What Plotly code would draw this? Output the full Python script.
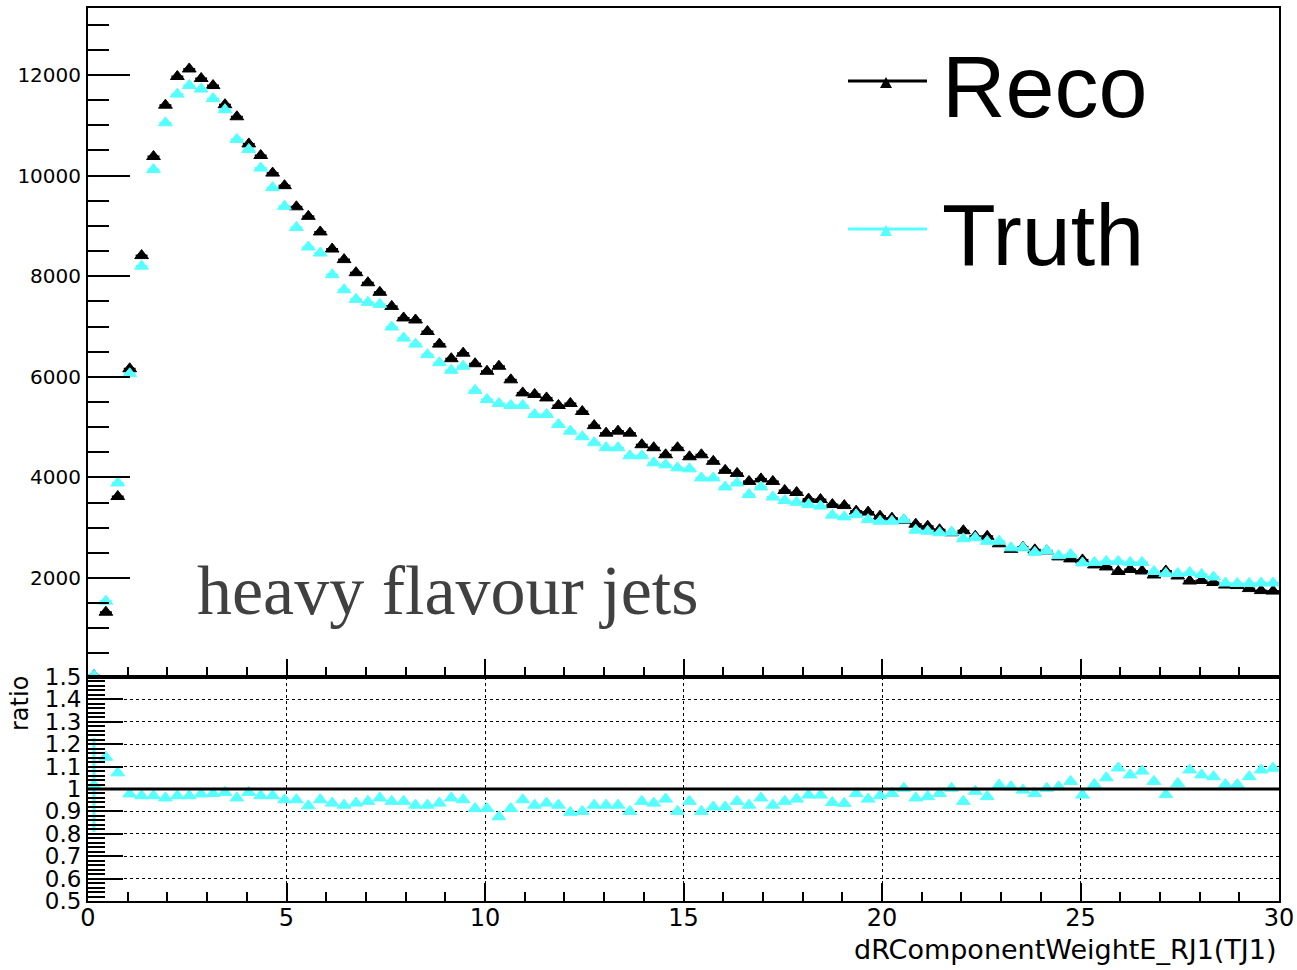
import plotly.graph_objects as go

W, H = 1297, 970

# ---------------- data ----------------
N_BINS = 100
X_MIN, X_MAX = 0.0, 30.0
BIN_WIDTH = (X_MAX - X_MIN) / N_BINS
BIN_CENTERS = [round(X_MIN + BIN_WIDTH * (i + 0.5), 3) for i in range(N_BINS)]

RECO = [
    62, 1320, 3620, 6160, 8410, 10380, 11400, 11970, 12120, 11930,
    11790, 11410, 11170, 10630, 10400, 10050, 9800, 9380, 9190, 8880,
    8540, 8330, 8070, 7870, 7680, 7400, 7170, 7130, 6900, 6650,
    6360, 6470, 6260, 6110, 6210, 5940, 5680, 5650, 5580, 5430,
    5470, 5310, 5030, 4880, 4920, 4880, 4650, 4590, 4450, 4590,
    4410, 4450, 4320, 4140, 4080, 3920, 3970, 3920, 3740, 3700,
    3570, 3560, 3460, 3440, 3330, 3310, 3230, 3190, 3150, 3070,
    3030, 2960, 2900, 2940, 2830, 2830, 2680, 2570, 2610, 2560,
    2540, 2420, 2380, 2360, 2260, 2220, 2130, 2170, 2140, 2060,
    2140, 2040, 1940, 1950, 1910, 1860, 1850, 1790, 1750, 1740,
]

TRUTH = [
    64, 1540, 3890, 6060, 8200, 10120, 11050, 11620, 11790, 11720,
    11530, 11310, 10720, 10520, 10150, 9760, 9390, 8970, 8580, 8460,
    8030, 7730, 7540, 7480, 7440, 6990, 6770, 6650, 6440, 6280,
    6130, 6210, 5730, 5550, 5470, 5430, 5430, 5250, 5250, 5050,
    4920, 4810, 4690, 4590, 4590, 4430, 4430, 4290, 4250, 4190,
    4170, 3990, 3990, 3810, 3890, 3660, 3810, 3610, 3540, 3505,
    3460, 3430, 3250, 3215, 3260, 3160, 3130, 3130, 3160, 2950,
    2930, 2900, 2910, 2780, 2800, 2730, 2730, 2600, 2600, 2510,
    2545, 2445, 2465, 2300, 2310, 2330, 2330, 2310, 2310, 2130,
    2090, 2090, 2110, 2070, 2020, 1900, 1890, 1890, 1900, 1900,
]

# Truth / Reco ratio as drawn in the lower pad
RATIO = [
    1.018, 1.142, 1.072, 0.978, 0.970, 0.970, 0.960, 0.970, 0.970, 0.978,
    0.980, 0.985, 0.960, 0.985, 0.970, 0.970, 0.952, 0.952, 0.925, 0.952,
    0.937, 0.928, 0.937, 0.945, 0.960, 0.945, 0.945, 0.928, 0.928, 0.937,
    0.960, 0.952, 0.913, 0.913, 0.876, 0.913, 0.952, 0.928, 0.937, 0.928,
    0.896, 0.900, 0.928, 0.928, 0.928, 0.900, 0.945, 0.937, 0.955, 0.900,
    0.945, 0.900, 0.920, 0.920, 0.945, 0.928, 0.960, 0.928, 0.945, 0.955,
    0.973, 0.973, 0.940, 0.936, 0.980, 0.955, 0.970, 0.980, 1.003, 0.960,
    0.966, 0.980, 1.003, 0.945, 0.990, 0.966, 1.018, 1.010, 0.995, 0.980,
    1.003, 1.010, 1.034, 0.973, 1.020, 1.050, 1.094, 1.063, 1.080, 1.034,
    0.975, 1.025, 1.085, 1.063, 1.055, 1.020, 1.020, 1.055, 1.085, 1.093,
]
RATIO_ERR = [0.21] + [0.0] * (N_BINS - 1)

X_TITLE = "dRComponentWeightE_RJ1(TJ1)"
Y2_TITLE = "ratio"
LABEL = "heavy flavour jets"
SERIES_NAMES = ["Reco", "Truth"]

BLACK = "#000000"
CYAN = "#55ffff"

# ---------------- layout geometry (pixels) ----------------
PX_L, PX_R = 88, 1279
PX_TOP, PX_MID, PX_BOT = 8, 677, 901


def fx(px):
    return px / W


def fy(py):
    return 1 - py / H


fig = go.Figure()

half_w = [BIN_WIDTH / 2] * N_BINS
MSIZE = 12

fig.add_trace(go.Scatter(
    x=BIN_CENTERS, y=RECO, mode="markers", name=SERIES_NAMES[0],
    marker=dict(symbol="triangle-up", size=MSIZE, color=BLACK,
                line=dict(color=BLACK, width=1)),
    error_x=dict(type="data", array=half_w, color=BLACK, thickness=2, width=0),
    xaxis="x", yaxis="y", showlegend=False,
))
fig.add_trace(go.Scatter(
    x=BIN_CENTERS, y=TRUTH, mode="markers", name=SERIES_NAMES[1],
    marker=dict(symbol="triangle-up", size=MSIZE, color=CYAN,
                line=dict(color=CYAN, width=1)),
    error_x=dict(type="data", array=half_w, color=CYAN, thickness=2, width=0),
    xaxis="x", yaxis="y", showlegend=False,
))
fig.add_trace(go.Scatter(
    x=BIN_CENTERS, y=RATIO, mode="markers", name="ratio",
    marker=dict(symbol="triangle-up", size=MSIZE, color=CYAN,
                line=dict(color=CYAN, width=1)),
    error_y=dict(type="data", array=RATIO_ERR, color=CYAN, thickness=3, width=0),
    xaxis="x2", yaxis="y2", showlegend=False,
))

axis_common = dict(
    showline=True, linecolor=BLACK, linewidth=2, mirror=True,
    zeroline=False, ticks="inside", tickcolor=BLACK, tickwidth=2,
    automargin=False,
)

fig.update_layout(
    width=W, height=H, autosize=False,
    margin=dict(l=0, r=0, t=0, b=0, pad=0, autoexpand=False),
    paper_bgcolor="white", plot_bgcolor="white",
    showlegend=False,
    xaxis=dict(
        domain=[fx(PX_L), fx(PX_R)], range=[X_MIN, X_MAX], anchor="y",
        tick0=0, dtick=5, ticklen=18, showticklabels=False, showgrid=False,
        minor=dict(dtick=1, tick0=0, ticks="inside", ticklen=10, tickwidth=2,
                   tickcolor=BLACK, showgrid=False),
        **axis_common,
    ),
    yaxis=dict(
        domain=[fy(PX_MID), fy(PX_TOP)], range=[32, 13332], anchor="x",
        tick0=0, dtick=2000, ticklen=42, showgrid=False, tickformat="d",
        ticklabelstandoff=1,
        tickfont=dict(family="DejaVu Sans", size=20, color=BLACK),
        minor=dict(dtick=500, tick0=0, ticks="inside", ticklen=21, tickwidth=2,
                   tickcolor=BLACK, showgrid=False),
        **axis_common,
    ),
    xaxis2=dict(
        domain=[fx(PX_L), fx(PX_R)], range=[X_MIN, X_MAX], anchor="y2",
        tick0=0, dtick=5, ticklen=18, tickformat="d", ticklabelstandoff=-6,
        showgrid=True, gridcolor=BLACK, gridwidth=1, griddash="dot",
        tickfont=dict(family="DejaVu Sans", size=24, color=BLACK),
        minor=dict(dtick=1, tick0=0, ticks="inside", ticklen=9, tickwidth=2,
                   tickcolor=BLACK, showgrid=False),
        **axis_common,
    ),
    yaxis2=dict(
        domain=[fy(PX_BOT), fy(PX_MID)], range=[0.5, 1.5], anchor="x2",
        tick0=0.5, dtick=0.1, ticklen=35,
        showgrid=True, gridcolor=BLACK, gridwidth=1, griddash="dot",
        tickfont=dict(family="DejaVu Sans", size=23, color=BLACK),
        minor=dict(dtick=0.02, tick0=0.5, ticks="inside", ticklen=17, tickwidth=2,
                   tickcolor=BLACK, showgrid=False),
        **axis_common,
    ),
)

# reference line at ratio = 1
fig.add_shape(type="line", xref="x2", yref="y2", x0=X_MIN, x1=X_MAX, y0=1, y1=1,
              line=dict(color=BLACK, width=3))

# hand-drawn legend (ROOT style)
for name, color, ly in [(SERIES_NAMES[0], BLACK, 81), (SERIES_NAMES[1], CYAN, 229)]:
    fig.add_shape(type="line", xref="paper", yref="paper",
                  x0=fx(848), x1=fx(927), y0=fy(ly), y1=fy(ly),
                  line=dict(color=color, width=3))
    cx = 886
    path = (f"M {fx(cx - 6)},{fy(ly + 7)} L {fx(cx + 6)},{fy(ly + 7)} "
            f"L {fx(cx)},{fy(ly - 4)} Z")
    fig.add_shape(type="path", xref="paper", yref="paper", path=path,
                  fillcolor=color, line=dict(color=color, width=0))
    fig.add_annotation(x=fx(940), y=fy(ly + 5), xref="paper", yref="paper",
                       text=name, showarrow=False, xanchor="left", yanchor="middle",
                       font=dict(family="Liberation Sans", size=88, color=BLACK))

fig.add_annotation(x=fx(195), y=fy(590), xref="paper", yref="paper",
                   text=LABEL, showarrow=False, xanchor="left", yanchor="middle",
                   font=dict(family="Liberation Serif", size=70, color="#404040"))

fig.add_annotation(x=fx(1279), y=fy(949), xref="paper", yref="paper",
                   text=X_TITLE, showarrow=False, xanchor="right", yanchor="middle",
                   font=dict(family="DejaVu Sans", size=27, color=BLACK))

fig.add_annotation(x=fx(20), y=fy(704), xref="paper", yref="paper",
                   text=Y2_TITLE, showarrow=False, textangle=-90,
                   xanchor="center", yanchor="middle",
                   font=dict(family="DejaVu Sans", size=24, color=BLACK))

fig.write_html("out.html")
